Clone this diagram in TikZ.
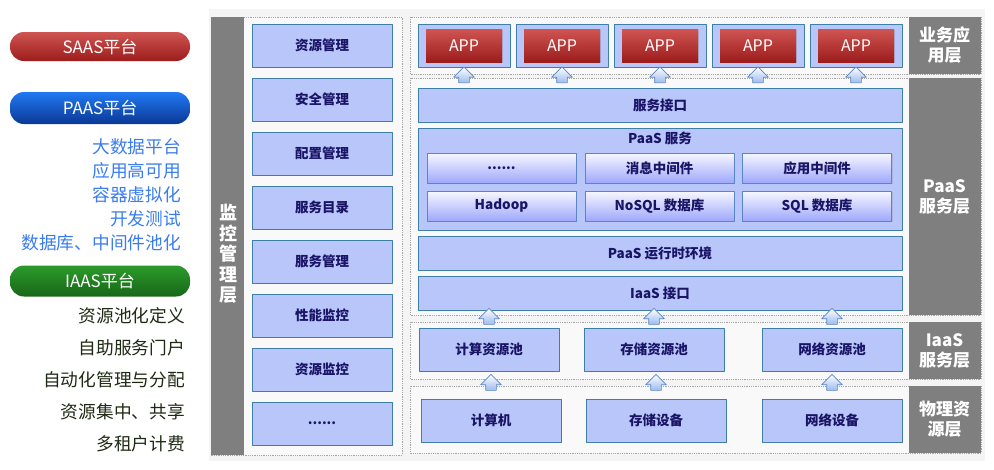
\documentclass[tikz,border=0pt]{standalone}
\usepackage{fontspec}
\setmainfont{Noto Sans CJK SC}
\usetikzlibrary{shapes.arrows,shadows}
\definecolor{boxblue}{HTML}{B8C6FA}
\definecolor{boxline}{HTML}{3F7FA6}
\definecolor{txtnavy}{HTML}{1A1466}
\definecolor{layergrey}{HTML}{7F7F7F}
\definecolor{redtop}{HTML}{CF5552}
\definecolor{redbot}{HTML}{9C1C1C}
\definecolor{bluetop}{HTML}{2079F2}
\definecolor{bluebot}{HTML}{0B3896}
\definecolor{greentop}{HTML}{2B9B2B}
\definecolor{greenbot}{HTML}{186618}
\definecolor{listblue}{HTML}{3A7CF0}
\definecolor{listdark}{HTML}{1E2A14}
\definecolor{arrline}{HTML}{5A86C8}
\definecolor{arrfill}{HTML}{9DBBEE}
\begin{document}
\begin{tikzpicture}[x=1pt, y=-1pt, line join=round]
\def\sixdots{......}
\tikzset{
  mbox/.style={draw=boxline, fill=boxblue, line width=.8pt, text=txtnavy,
    font=\bfseries\fontsize{13.5}{14}\selectfont, minimum width=140pt, minimum height=43pt, inner sep=0pt},
  wbox/.style={mbox, minimum width=484pt, minimum height=34pt},
  btn/.style={draw=arrline, top color=blue!3, bottom color=boxblue!80!blue!90, line width=.6pt, text=txtnavy,
    font=\bfseries\fontsize{13.5}{14}\selectfont, minimum width=149pt, minimum height=30pt, inner sep=0pt,
    drop shadow={opacity=.25, shadow xshift=1pt, shadow yshift=-1pt}},
  appbox/.style={draw=boxline, fill=boxblue, line width=.8pt, minimum width=92pt, minimum height=43pt, inner sep=0pt},
  appred/.style={top color=redtop, bottom color=redbot, text=white, font=\fontsize{16}{16}\selectfont,
    minimum width=76pt, minimum height=33pt, inner sep=0pt,
    drop shadow={opacity=.3, shadow xshift=1pt, shadow yshift=-1pt}},
  frame/.style={draw=gray!70, densely dotted, line width=.8pt},
  layer/.style={fill=layergrey, text=white, font=\bfseries\fontsize{17}{20}\selectfont, align=center, inner sep=0pt},
  pill/.style={rounded corners=14pt, minimum width=180pt, text=white, font=\fontsize{17}{17}\selectfont, inner sep=0pt},
  uparr/.style={single arrow, shape border rotate=90, draw=arrline, top color=white, bottom color=arrfill,
    line width=.6pt, minimum height=15pt, inner sep=5pt, single arrow head extend=5pt},
  listitem/.style={anchor=east, font=\fontsize{17.7}{18}\selectfont, inner sep=0pt}
}
\useasboundingbox (0,0) rectangle (994,469);
% background panel
\fill[gray!9] (209,9) rectangle (985,461);

% left platform legend
\node[pill, minimum height=29pt, top color=redtop, bottom color=redbot] (saas) at (100,46.5) {SAAS平台};
\node[pill, minimum height=32pt, top color=bluetop, bottom color=bluebot] (paas) at (100,108) {PAAS平台};
\node[pill, minimum height=31pt, top color=greentop, bottom color=greenbot] (iaas) at (100,281) {IAAS平台};
\foreach \t [count=\i from 0] in {大数据平台, 应用高可用, 容器虚拟化, 开发测试, 数据库、中间件池化}
  \node[listitem, text=listblue] (pl\i) at (181,147+24*\i) {\t};
\foreach \t [count=\i from 0] in {资源池化定义, 自助服务门户, 自动化管理与分配, 资源集中、共享, 多租户计费}
  \node[listitem, text=listdark] (il\i) at (185,316+32*\i) {\t};

% monitoring column
\draw[frame, fill=gray!5] (211,17) rectangle (402,455);
\fill[layergrey] (211,17) rectangle (244,455);
\node[layer, font=\bfseries\fontsize{18}{20.5}\selectfont] (mgt) at (228,254) {监\\控\\管\\理\\层};
\foreach \n/\t [count=\i from 0] in {mres/资源管理, msec/安全管理, mcfg/配置管理, mcat/服务目录,
    msvc/服务管理, mperf/性能监控, mmon/资源监控, mmore/\sixdots}
  \node[mbox] (\n) at (322,45.5+54*\i) {\t};

% layer frames
\draw[frame, fill=gray!5] (410,17) rectangle (981,74);
\draw[frame, fill=gray!5] (410,78) rectangle (981,315);
\draw[frame, fill=gray!5] (410,322) rectangle (981,379);
\draw[frame, fill=gray!5] (410,386) rectangle (981,453);
\node[layer, minimum width=72pt, minimum height=57pt] (lapp) at (944.5,45.5) {业务应\\用层};
\node[layer, minimum width=72pt, minimum height=237pt] (lpaas) at (944.5,196.5) {PaaS\\服务层};
\node[layer, minimum width=72pt, minimum height=57pt] (liaas) at (944.5,350.5) {IaaS\\服务层};
\node[layer, minimum width=72pt, minimum height=67pt] (lphy) at (944.5,419.5) {物理资\\源层};

% application layer
\foreach \i in {1,...,5}{
  \node[appbox] (app\i) at (366+98*\i,45.5) {};
  \node[appred] (red\i) at (app\i) {APP};
}

% PaaS layer
\node[wbox] (ifc) at (660,105) {服务接口};
\node[wbox, minimum height=102pt] (psvc) at (660,179) {};
\node[text=txtnavy, font=\bfseries\fontsize{13.5}{14}\selectfont] (psvct) at (660,138) {PaaS 服务};
\node[btn] (etc) at (501.5,168) {\sixdots};
\node[btn] (mq) at (659.5,168) {消息中间件};
\node[btn] (mw) at (817,168) {应用中间件};
\node[btn] (hdp) at (501.5,206) {Hadoop};
\node[btn] (nosql) at (659.5,206) {NoSQL 数据库};
\node[btn] (sql) at (817,206) {SQL 数据库};
\node[wbox] (rt) at (660,253) {PaaS 运行时环境};
\node[wbox] (iifc) at (660,293) {IaaS 接口};

% IaaS layer
\node[mbox] (cpool) at (489,349.5) {计算资源池};
\node[mbox] (spool) at (654,349.5) {存储资源池};
\node[mbox] (npool) at (832,349.5) {网络资源池};

% physical layer
\node[mbox] (comp) at (491,420.5) {计算机};
\node[mbox] (stor) at (656,420.5) {存储设备};
\node[mbox] (net) at (832,420.5) {网络设备};

% up arrows
\foreach \i in {1,...,5}
  \path (app\i.south) -- (app\i.south |- ifc.north) node[midway, uparr] {};
\foreach \n in {cpool, spool, npool}
  \path (\n.north) -- (\n.north |- iifc.south) node[midway, uparr] {};
\foreach \a/\b in {comp/cpool, stor/spool, net/npool}
  \path (\a.north) -- (\a.north |- \b.south) node[midway, uparr] {};
\end{tikzpicture}
\end{document}
